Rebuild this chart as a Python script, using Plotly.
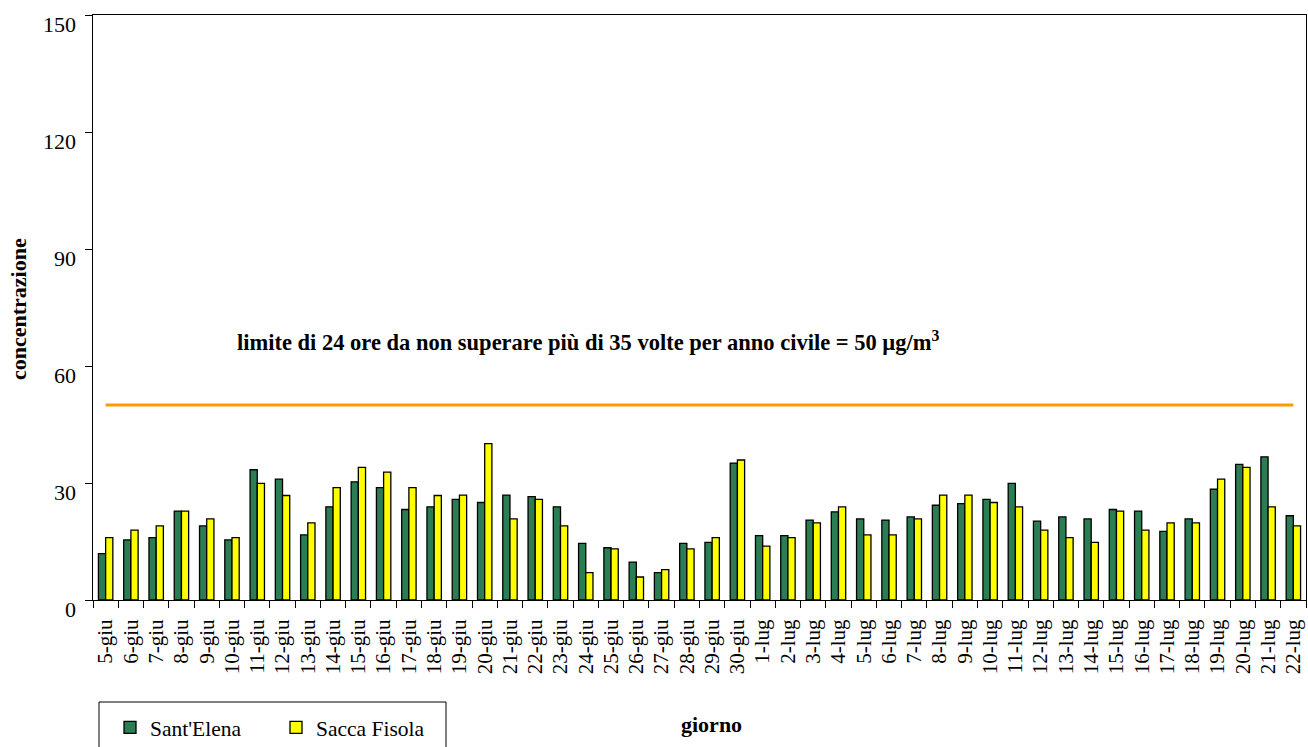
import plotly.graph_objects as go

giorni = [
    "5-giu", "6-giu", "7-giu", "8-giu", "9-giu", "10-giu", "11-giu", "12-giu",
    "13-giu", "14-giu", "15-giu", "16-giu", "17-giu", "18-giu", "19-giu", "20-giu",
    "21-giu", "22-giu", "23-giu", "24-giu", "25-giu", "26-giu", "27-giu", "28-giu",
    "29-giu", "30-giu", "1-lug", "2-lug", "3-lug", "4-lug", "5-lug", "6-lug",
    "7-lug", "8-lug", "9-lug", "10-lug", "11-lug", "12-lug", "13-lug", "14-lug",
    "15-lug", "16-lug", "17-lug", "18-lug", "19-lug", "20-lug", "21-lug", "22-lug",
]

sant_elena = [
    11.9, 15.4, 16.0, 22.8, 19.0, 15.4, 33.4, 31.0,
    16.7, 23.9, 30.3, 28.8, 23.2, 23.9, 25.8, 25.0,
    26.9, 26.5, 23.9, 14.5, 13.4, 9.7, 7.0, 14.5,
    14.8, 35.1, 16.5, 16.5, 20.5, 22.6, 20.8, 20.5,
    21.3, 24.3, 24.7, 25.8, 29.9, 20.2, 21.3, 20.8,
    23.2, 22.8, 17.6, 20.8, 28.4, 34.8, 36.7, 21.6,
]

sacca_fisola = [
    16.0, 17.9, 19.0, 22.8, 20.8, 16.0, 29.9, 26.8,
    19.8, 28.8, 34.0, 32.8, 28.8, 26.8, 26.9, 40.1,
    20.8, 25.8, 19.0, 7.0, 13.1, 5.9, 7.8, 13.1,
    16.0, 35.9, 13.8, 16.0, 19.8, 23.9, 16.7, 16.7,
    20.8, 26.9, 26.9, 25.0, 23.9, 17.9, 16.0, 14.8,
    22.8, 17.9, 19.8, 19.8, 31.0, 34.0, 23.9, 19.0,
]

limite = 50
y_ticks = [0, 30, 60, 90, 120, 150]

FONT = "Liberation Serif"
W, H = 1308, 747
L, R, T, B = 93, 2, 15, 147
pw, ph = W - L - R, H - T - B


def px_x(p):
    return (p - L) / pw


def px_y(p):
    return (H - B - p) / ph


fig = go.Figure()
fig.add_trace(go.Bar(
    x=giorni, y=sant_elena, name="Sant'Elena",
    marker=dict(color="#2B7D53", line=dict(color="black", width=1.3)),
))
fig.add_trace(go.Bar(
    x=giorni, y=sacca_fisola, name="Sacca Fisola",
    marker=dict(color="#FFFF00", line=dict(color="black", width=1.3)),
))
fig.add_trace(go.Scatter(
    x=giorni, y=[limite] * len(giorni), mode="lines",
    line=dict(color="#FF9900", width=3), showlegend=False, hoverinfo="skip",
))

# y tick labels sit slightly below their tick marks
for v in y_ticks:
    fig.add_annotation(
        x=0, xref="paper", y=v, yref="y", text=str(v), showarrow=False,
        xanchor="right", yanchor="middle", xshift=-15, yshift=-9,
        font=dict(family=FONT, size=22, color="black"),
    )

fig.add_annotation(
    x=px_x(588), xref="paper", y=66.4, yref="y",
    text="<b>limite di 24 ore da non superare più di 35 volte per anno civile = 50 µg/m<sup>3</sup></b>",
    showarrow=False, font=dict(family=FONT, size=22.5, color="black"),
    xanchor="center", yanchor="middle",
)
fig.add_annotation(
    x=px_x(711), xref="paper", y=px_y(724), yref="paper",
    text="<b>giorno</b>", showarrow=False,
    font=dict(family=FONT, size=22, color="black"),
    xanchor="center", yanchor="middle",
)
fig.add_annotation(
    x=px_x(18), xref="paper", y=px_y(309), yref="paper",
    text="<b>concentrazione</b>", showarrow=False, textangle=-90,
    font=dict(family=FONT, size=22, color="black"),
    xanchor="center", yanchor="middle",
)

# legend frame, running off the bottom edge
fig.add_shape(
    type="rect", xref="paper", yref="paper",
    x0=px_x(99), x1=px_x(446), y0=px_y(770), y1=px_y(702),
    line=dict(color="black", width=1), fillcolor="rgba(0,0,0,0)",
)

fig.update_layout(
    width=W, height=H,
    margin=dict(l=L, r=R, t=T, b=B, autoexpand=False),
    paper_bgcolor="white", plot_bgcolor="white",
    barmode="group", bargap=0.43, bargroupgap=0.0,
    font=dict(family=FONT, size=21, color="black"),
    showlegend=True,
    legend=dict(
        orientation="h", x=px_x(110), y=px_y(707), xanchor="left", yanchor="top",
        font=dict(family=FONT, size=21.5), entrywidth=121, entrywidthmode="pixels",
        bgcolor="rgba(0,0,0,0)", borderwidth=0,
    ),
    xaxis=dict(
        type="category", tickangle=-90, tickfont=dict(family=FONT, size=21),
        ticks="outside", tickson="boundaries", ticklen=7, tickcolor="black",
        ticklabelstandoff=10,
        showline=True, linecolor="black", linewidth=1, mirror=True,
        showgrid=False, zeroline=False,
    ),
    yaxis=dict(
        range=[0, 150], tickvals=y_ticks, showticklabels=False,
        ticks="outside", ticklen=7, tickcolor="black",
        showline=True, linecolor="black", linewidth=1, mirror=True,
        showgrid=False, zeroline=False,
    ),
)

fig.write_html("out.html")
